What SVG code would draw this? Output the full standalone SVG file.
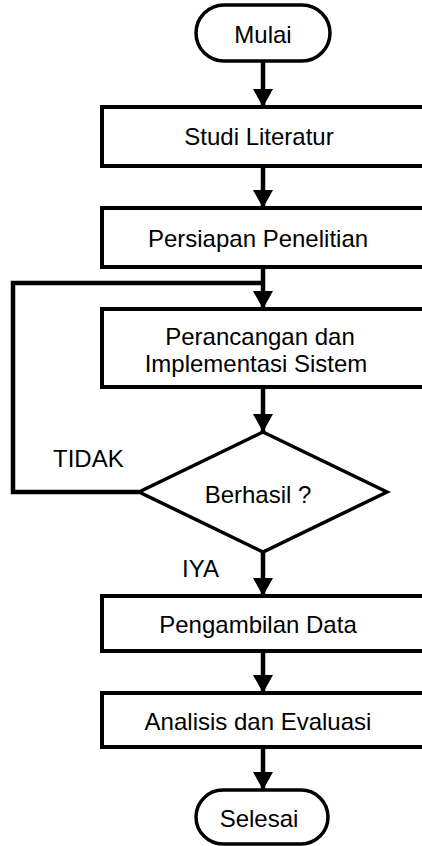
<svg xmlns="http://www.w3.org/2000/svg" width="422" height="846" viewBox="0 0 422 846">
<style>
.box{fill:#fff;stroke:#000;stroke-width:4}
.term{fill:#fff;stroke:#000;stroke-width:3.5}
.dec{fill:#fff;stroke:#000;stroke-width:3.5;stroke-linejoin:miter}
.t{font-family:"Liberation Sans",Arial,sans-serif;font-size:24px;fill:#000;text-anchor:middle}
.lbl{font-family:"Liberation Sans",Arial,sans-serif;font-size:24px;fill:#000}
.c{fill:none;stroke:#000;stroke-width:4.5}
</style>
<defs>
<marker id="ah" markerUnits="userSpaceOnUse" markerWidth="20" markerHeight="20" refX="18" refY="10" orient="auto" viewBox="0 0 18 20">
<path d="M0,0 L18,10 L0,20 z" fill="#000"/>
</marker>
</defs>
<g id="connectors">
<line class="c" x1="263" y1="61" x2="263" y2="107" marker-end="url(#ah)"/>
<line class="c" x1="263" y1="166" x2="263" y2="208" marker-end="url(#ah)"/>
<line class="c" x1="263" y1="267" x2="263" y2="309" marker-end="url(#ah)"/>
<polyline class="c" points="139,492 13,492 13,283 263,283"/>
<line class="c" x1="263" y1="387" x2="263" y2="432" marker-end="url(#ah)"/>
<line class="c" x1="263" y1="552" x2="263" y2="596" marker-end="url(#ah)"/>
<line class="c" x1="263" y1="651" x2="263" y2="693" marker-end="url(#ah)"/>
<line class="c" x1="263" y1="747" x2="263" y2="790" marker-end="url(#ah)"/>
</g>
<g id="mulai">
<rect class="term" x="196" y="5" width="134" height="56" rx="28" ry="28"/>
<text class="t" x="263" y="43">Mulai</text>
</g>
<g id="studi">
<rect class="box" x="102" y="107" width="322" height="59"/>
<text class="t" x="259" y="145">Studi Literatur</text>
</g>
<g id="persiapan">
<rect class="box" x="102" y="208" width="322" height="59"/>
<text class="t" x="258" y="247">Persiapan Penelitian</text>
</g>
<g id="perancangan">
<rect class="box" x="102" y="309" width="322" height="78"/>
<text class="t" x="260" y="345">Perancangan dan</text>
<text class="t" x="256" y="372">Implementasi Sistem</text>
</g>
<g id="berhasil">
<polygon class="dec" points="263,432 387,492 263,552 139,492"/>
<text class="t" x="258" y="503">Berhasil ?</text>
</g>
<g id="labels">
<text class="lbl" x="53" y="467">TIDAK</text>
<text class="lbl" x="182" y="577">IYA</text>
</g>
<g id="pengambilan">
<rect class="box" x="102" y="596" width="322" height="55"/>
<text class="t" x="258" y="633">Pengambilan Data</text>
</g>
<g id="analisis">
<rect class="box" x="102" y="693" width="322" height="54"/>
<text class="t" x="258" y="730">Analisis dan Evaluasi</text>
</g>
<g id="selesai">
<rect class="term" x="196" y="790" width="132" height="54" rx="27" ry="27"/>
<text class="t" x="259" y="827">Selesai</text>
</g>
</svg>
